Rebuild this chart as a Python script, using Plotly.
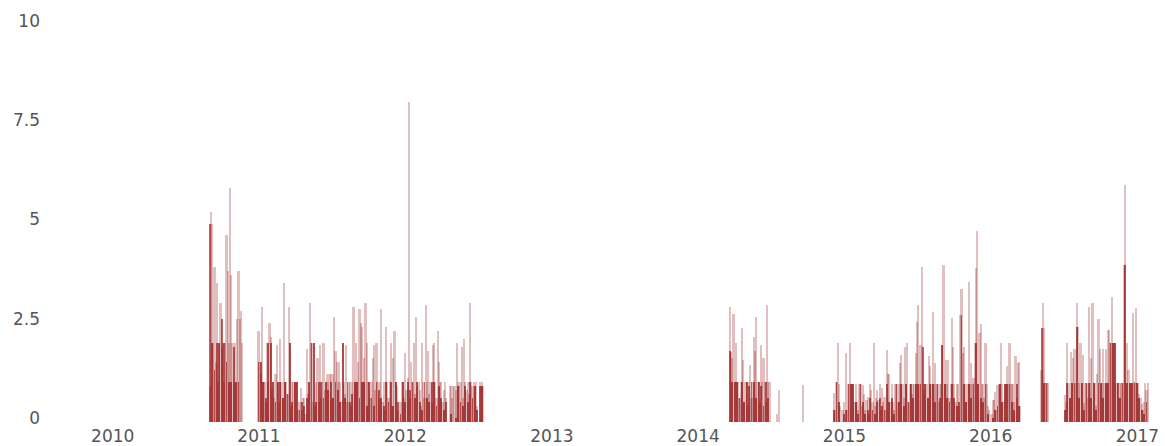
import pandas as pd
import plotly.graph_objects as go

# ---- data: values, one bar every 3 days within each active period ----
period_a_start = "2010-08-31"
period_a_values = [0.9, 5.3, 5.0, 2.0, 3.9, 1.5, 3.5, 1.0, 2.0, 3.0, 1.9, 2.0, 1.0, 2.0,
                   4.7, 3.8, 2.0, 5.9, 3.7, 2.0, 1.0, 2.0, 1.0, 2.6, 3.8, 2.6, 2.8, 2.0]

period_b_start = "2010-12-31"
period_b_values = [
    2.3, 1.5, 1.2, 2.9, 1.0, 1.0, 0.5, 2.0, 1.0, 2.5,
    2.15, 0.8, 1.0, 0.6, 1.2, 1.95, 1.0, 0.5, 2.1, 1.0,
    0.6, 3.5, 1.0, 1.0, 0.7, 2.9, 2.0, 0.4, 1.0, 1.0,
    1.0, 1.0, 1.0, 0.3, 0.5, 0.85, 0.3, 0.6, 0.6, 0.2,
    1.85, 0.7, 1.0, 3.0, 2.0, 0.5, 2.0, 0.4, 1.0, 1.6,
    0.5, 1.95, 0.6, 1.0, 2.0, 0.8, 1.0, 1.2, 1.0, 1.2,
    1.2, 0.6, 1.2, 2.65, 1.8, 1.5, 1.0, 1.5, 1.0, 0.5,
    2.0, 1.0, 0.7, 1.95, 0.5, 1.0, 1.0, 0.4, 1.0, 2.9,
    1.0, 2.0, 1.0, 1.5, 2.85, 2.5, 2.4, 1.0, 1.6, 3.0,
    2.0, 1.0, 1.0, 0.6, 1.0, 1.6, 1.95, 0.8, 2.0, 1.0,
    0.6, 1.0, 2.85, 0.5, 1.0, 0.3, 2.4, 1.0, 0.6, 1.0,
    2.0, 0.4, 1.6, 2.3, 1.0, 0.9, 0.3, 0.0, 0.5, 1.0,
    1.0, 0.6, 1.75, 0.8, 1.1, 8.05, 0.6, 1.5, 1.0, 2.0,
    0.7, 2.65, 0.9, 1.0, 0.8, 0.4, 2.0, 1.0, 0.6, 2.95,
    1.0, 1.8, 0.7, 1.0, 0.5, 1.95, 2.0, 1.0, 0.6, 2.3,
    1.5, 1.0, 1.0, 0.5, 0.8, 1.0, 0.6, 0.0, 0.0, 0.9,
    0.9, 0.6, 0.9, 0.9, 0.8, 2.0, 1.0, 0.9, 1.0, 1.9,
    0.6, 2.1, 1.0, 0.8, 1.0, 0.7, 3.0, 1.0, 0.9, 1.0,
    0.9, 1.0, 0.4, 0.0, 1.0, 0.9, 1.0, 0.9,
]

period_c_start = "2014-03-21"
period_c_values = [2.9, 1.77, 1.6, 2.72, 1.0, 1.98, 1.0, 1.0, 0.6, 1.0, 2.36, 1.56,
                   0.5, 1.0, 1.0, 0.4, 1.0, 1.43, 0.6, 1.0, 2.15, 1.8, 2.65, 1.0,
                   1.0, 0.5, 1.94, 1.0, 1.6, 1.0, 0.5, 2.95, 1.0, 1.0]

isolated_dates = ["2014-07-17", "2014-07-21", "2014-09-20"]
isolated_values = [0.2, 0.8, 0.93]

period_d_start = "2014-12-06"
period_d_values = [
    0.72, 0.3, 1.0, 1.98, 0.96, 0.4, 0.0, 0.3, 0.5, 0.0,
    1.73, 0.3, 0.96, 1.98, 0.96, 0.96, 0.96, 0.5, 0.96, 0.51,
    0.3, 0.96, 0.96, 0.4, 0.92, 0.7, 0.3, 0.55, 0.64, 0.2,
    0.96, 0.8, 0.5, 1.98, 0.4, 0.6, 0.8, 0.55, 0.96, 0.3,
    0.85, 0.5, 0.64, 0.3, 1.81, 1.2, 1.2, 0.5, 0.96, 0.51,
    0.3, 0.96, 0.96, 0.5, 0.96, 1.48, 1.7, 0.96, 0.6, 1.89,
    0.96, 1.98, 0.5, 0.96, 0.96, 0.7, 0.96, 0.96, 1.73, 2.53,
    2.95, 0.96, 1.94, 3.91, 0.96, 0.8, 0.96, 0.96, 0.6, 1.66,
    1.4, 0.96, 2.78, 0.96, 1.48, 0.96, 0.96, 0.5, 0.96, 0.96,
    1.94, 3.95, 0.96, 1.56, 0.96, 1.56, 0.6, 0.96, 2.63, 1.89,
    0.96, 0.5, 0.96, 0.96, 0.4, 2.7, 3.36, 1.73, 1.89, 0.96,
    0.5, 0.96, 3.52, 0.96, 1.48, 0.96, 1.1, 1.98, 3.87, 4.8,
    0.96, 2.23, 2.48, 0.96, 0.96, 0.6, 1.98, 0.96, 0.4, 0.3,
    0.0, 0.2, 0.55, 0.55, 0.76, 0.3, 0.92, 0.96, 0.96, 1.98,
    0.96, 0.5, 0.96, 0.96, 1.4, 0.96, 1.98, 0.96, 0.96, 0.96,
    0.5, 1.66, 0.6, 1.48, 1.52, 0.4,
]

period_e1_start = "2016-05-07"
period_e1_values = [1.31, 2.99, 2.36, 0.97, 0.97, 0.97]

period_e2_start = "2016-07-04"
period_e2_values = [
    0.68, 0.5, 1.98, 0.97, 0.6, 1.77, 0.97, 1.6, 1.85, 0.97,
    2.99, 2.4, 0.97, 1.98, 0.97, 1.69, 0.47, 0.97, 0.97, 0.6,
    2.9, 0.97, 1.6, 2.99, 0.97, 0.97, 0.4, 1.2, 2.6, 1.85,
    0.97, 0.97, 1.85, 0.97, 1.85, 0.97, 2.32, 2.32, 1.98, 3.15,
    1.98, 1.98, 1.98, 0.97, 0.97, 0.6, 0.97, 0.97, 0.97, 3.95,
    5.97, 0.97, 1.98, 1.31, 0.97, 0.97, 0.97, 2.74, 1.0, 2.87,
    0.97, 0.97, 0.7, 0.6, 0.45, 0.3, 0.5, 0.97, 0.8, 0.97,
]

# ---- overlapping low-level records (the dark band), one bar every 6 days ----
base_a_values = [5.0, 2.0, 1.3, 2.0, 2.0, 2.6, 2.0, 1.5, 1.0, 1.0, 1.9, 1.0, 1.0]
base_b_values = [
    1.5, 1.5, 1.0, 0.6, 2.0, 2.0, 1.0, 0.5, 1.0, 1.0,
    0.6, 1.0, 0.7, 2.0, 0.5, 1.0, 1.0, 0.3, 0.5, 0.4,
    0.6, 1.0, 2.0, 2.0, 0.5, 1.0, 1.0, 0.6, 1.0, 0.8,
    1.0, 0.6, 1.0, 0.8, 0.5, 2.0, 0.6, 1.0, 0.5, 0.7,
    1.0, 1.0, 0.6, 1.0, 1.0, 0.4, 1.0, 0.6, 0.4, 1.0,
    0.8, 0.6, 0.4, 1.0, 0.5, 1.0, 0.4, 1.0, 0.5, 0.2,
    1.0, 0.5, 1.0, 0.8, 1.0, 0.6, 1.0, 0.5, 0.3, 1.0,
    0.6, 0.5, 1.0, 1.0, 0.4, 0.9, 0.6, 0.3, 0.5, 0.0,
    0.2, 0.0, 0.1, 0.9, 0.5, 0.4, 0.9, 0.5, 1.0, 0.6,
    0.9, 0.3, 0.9, 0.9,
]
base_c_values = [1.8, 1.0, 1.0, 1.0, 0.6, 1.0, 0.5, 1.0, 0.9, 1.0, 1.0, 0.6, 1.0,
                 0.9, 0.4, 1.0, 0.6]
base_d_values = [
    0.3, 1.0, 0.5, 0.0, 0.2, 0.3, 0.96, 0.96, 0.96, 0.5,
    0.2, 0.96, 0.5, 0.2, 0.3, 0.6, 0.3, 0.2, 0.5, 0.6,
    0.4, 0.3, 0.96, 0.5, 0.6, 0.2, 0.96, 0.5, 0.96, 0.4,
    0.96, 0.5, 0.96, 0.6, 0.96, 0.96, 0.96, 1.9, 0.96, 0.6,
    0.96, 0.96, 0.5, 0.96, 0.6, 1.94, 0.96, 0.6, 0.5, 0.96,
    0.6, 0.4, 0.5, 2.7, 0.96, 0.5, 0.96, 0.6, 0.96, 2.0,
    0.96, 0.6, 0.5, 0.96, 0.2, 0.0, 0.1, 0.3, 0.4, 0.96,
    0.5, 0.96, 0.96, 0.96, 0.5, 0.3, 0.96, 0.4,
]
base_e1_values = [2.36, 0.97, 0.97]
base_e2_values = [
    0.3, 0.97, 0.6, 0.97, 0.97, 2.4, 0.6, 0.97, 0.3, 0.97,
    0.97, 0.6, 0.97, 0.3, 0.97, 0.97, 0.6, 0.97, 0.97, 1.98,
    1.98, 1.98, 0.97, 0.6, 0.97, 3.95, 0.97, 0.97, 0.97, 0.97,
    0.97, 0.6, 0.3, 0.2, 0.5,
]

year_ticks = ["2010-01-01", "2011-01-01", "2012-01-01", "2013-01-01",
              "2014-01-01", "2015-01-01", "2016-01-01", "2017-01-01"]
year_labels = ["2010", "2011", "2012", "2013", "2014", "2015", "2016", "2017"]
y_ticks = [0, 2.5, 5, 7.5, 10]
y_labels = ["0", "2.5", "5", "7.5", "10"]


def build(pairs, step):
    frames = [pd.DataFrame({"date": pd.date_range(s, periods=len(v), freq=step), "value": v})
              for s, v in pairs]
    out = pd.concat(frames, ignore_index=True)
    return out[out["value"] > 0]


main = build([(period_a_start, period_a_values), (period_b_start, period_b_values),
              (period_c_start, period_c_values), (period_d_start, period_d_values),
              (period_e1_start, period_e1_values), (period_e2_start, period_e2_values)], "3D")
iso = pd.DataFrame({"date": pd.to_datetime(isolated_dates), "value": isolated_values})
main = pd.concat([main, iso], ignore_index=True)
base = build([(period_a_start, base_a_values), (period_b_start, base_b_values),
              (period_c_start, base_c_values), (period_d_start, base_d_values),
              (period_e1_start, base_e1_values), (period_e2_start, base_e2_values)], "6D")

DAY_MS = 86400000
fig = go.Figure()
fig.add_trace(go.Bar(
    x=main["date"], y=main["value"], width=5.5 * DAY_MS,
    marker=dict(color="rgba(139,0,0,0.25)", line=dict(width=0)),
    hoverinfo="x+y",
))
fig.add_trace(go.Bar(
    x=base["date"], y=base["value"], width=4.5 * DAY_MS,
    marker=dict(color="rgba(139,0,0,0.6)", line=dict(width=0)),
    hoverinfo="x+y",
))

fig.update_layout(
    width=1165, height=446,
    margin=dict(l=45, r=10, t=25, b=24),
    paper_bgcolor="white", plot_bgcolor="white",
    barmode="overlay", bargap=0,
    showlegend=False,
    font=dict(family="DejaVu Sans", size=17, color="#555555"),
)
fig.update_xaxes(
    type="date", range=["2009-07-16", "2017-02-14"],
    tickvals=year_ticks, ticktext=year_labels,
    showgrid=False, zeroline=False, showline=False, ticks="",
    ticklabelstandoff=2,
    automargin=False,
)
fig.update_yaxes(
    range=[0, 10], tickvals=y_ticks, ticktext=y_labels,
    showgrid=False, zeroline=False, showline=False, ticks="",
    ticklabelshift=-4, ticklabelstandoff=4,
    automargin=False,
)

fig.write_html("out.html", config={"displayModeBar": False},
               post_script="document.body.style.margin='0';")
